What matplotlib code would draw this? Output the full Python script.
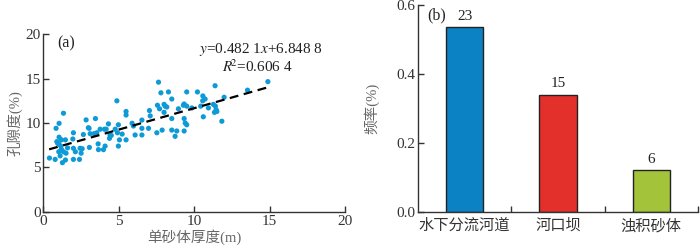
import matplotlib
matplotlib.use("Agg")
import matplotlib.pyplot as plt
import numpy as np

plt.rcParams['font.family'] = ['Liberation Serif', 'Noto Sans CJK SC']
plt.rcParams['mathtext.fontset'] = 'stix'

# ---- data (a): single sand body thickness vs porosity ----
thickness = [0.40, 0.78, 0.84, 1.04, 1.33, 0.89, 1.04, 1.02, 1.20, 1.46,
             1.02, 1.20, 1.33, 1.50, 1.26, 1.46, 1.11, 1.99, 2.39, 1.99,
             2.12, 1.95, 1.99, 2.43, 2.57, 2.50, 2.65, 2.83, 3.03, 3.10,
             3.05, 3.36, 3.45, 3.54, 3.63, 3.65, 3.98, 4.05,
             4.09, 4.16, 4.31, 4.38, 4.42, 4.76, 4.87, 4.91, 4.97, 5.04,
             4.97, 5.22, 5.48, 5.48, 5.48, 5.88, 5.97, 6.08, 6.53, 6.53,
             6.53, 7.03, 7.08, 6.97, 7.52, 7.63, 7.79, 7.56, 7.70, 8.00,
             8.00, 7.87, 1.15, 1.60, 0.95,
             8.29, 8.07, 8.18, 8.51, 8.51, 8.51, 8.84, 8.73, 8.95, 9.28,
             9.50, 9.33, 9.40, 9.50, 9.33, 9.50, 9.84, 10.21, 10.43, 10.57,
             10.72, 10.60, 10.94, 11.27, 11.40, 11.38, 11.45, 11.50, 11.83, 11.98,
             13.53, 14.88, 9.33, 10.56, 11.34, 3.76, 2.98, 4.50]
porosity = [6.05, 5.90, 9.40, 9.96, 11.10, 7.90, 8.40, 7.65, 8.10, 8.10,
            6.76, 7.03, 6.76, 6.60, 5.53, 5.83, 6.30, 5.90, 5.90, 7.15,
            6.76, 8.20, 8.90, 7.15, 7.10, 6.60, 8.70, 10.35, 9.40, 8.80,
            7.25, 8.80, 10.50, 8.90, 7.65, 7.00, 7.00, 9.30,
            7.40, 9.30, 9.90, 8.27, 8.65, 9.30, 12.50, 8.90, 9.80, 8.10,
            7.40, 8.75, 8.10, 11.30, 10.90, 9.97, 9.66, 8.65, 10.33, 9.40,
            8.65, 11.40, 10.80, 9.40, 8.90, 14.60, 13.40, 12.00, 11.60, 12.10,
            11.20, 9.20, 7.40, 7.20, 7.70,
            13.50, 11.90, 11.80, 12.70, 10.50, 9.20, 9.10, 8.50, 11.60, 12.00,
            11.90, 10.50, 10.00, 9.80, 9.10, 13.50, 11.70, 13.50, 11.90, 13.05,
            12.70, 10.70, 11.70, 12.10, 11.90, 14.20, 11.50, 11.30, 10.20, 12.90,
            13.70, 14.66, 12.14, 12.50, 11.20, 9.30, 9.47, 8.60]
fit_slope = 0.4821
fit_intercept = 6.8488
fit_range = [0.38, 14.9]

# ---- data (b): frequency by sand body type ----
categories = ['水下分流河道', '河口坝', '浊积砂体']
frequency = [0.535, 0.34, 0.12]
counts = [23, 15, 6]
bar_colors = ['#0a82c3', '#e3302b', '#a3c43a']

fig = plt.figure(figsize=(7, 2.5), dpi=100)

spine_c = '#333333'
label_c = '#666666'
tick_c = '#333333'

# ---------------- (a) ----------------
ax1 = fig.add_axes([0.062, 0.153, 0.431, 0.710])
ax1.scatter(thickness, porosity, s=14, color='#0e9ad7', edgecolors='none', zorder=2)
xf = np.array(fit_range)
ax1.plot(xf, fit_slope * xf + fit_intercept, color='black', lw=1.6,
         ls=(0, (4, 2.5)), zorder=3)
ax1.set_xlim(0, 20)
ax1.set_ylim(0, 20)
ax1.set_xticks([0, 5, 10, 15, 20])
ax1.set_yticks([0, 5, 10, 15, 20])
for s in ['top', 'right']:
    ax1.spines[s].set_visible(False)
for s in ['left', 'bottom']:
    ax1.spines[s].set_color(spine_c)
    ax1.spines[s].set_linewidth(1.0)
ax1.tick_params(direction='in', length=4, width=1, colors=tick_c,
                labelsize=11, labelcolor='#333333', pad=2)
ax1.set_xlabel('单砂体厚度(m)', fontsize=10.5, color=label_c, labelpad=1)
ax1.set_ylabel('孔隙度(%)', fontsize=10.5, color=label_c, labelpad=2)
ax1.text(0.045, 0.95, '(a)', transform=ax1.transAxes, fontsize=11.5,
         color='#222222', va='center', ha='left')
ax1.text(0.72, 0.915, r'$y$=0.482 1$x$+6.848 8', transform=ax1.transAxes,
         fontsize=11, color='#222222', ha='center', va='center')
ax1.text(0.71, 0.82, r'$R^{\!\!2}$=0.606 4', transform=ax1.transAxes,
         fontsize=11, color='#222222', ha='center', va='center')

# ---------------- (b) ----------------
ax2 = fig.add_axes([0.597, 0.153, 0.400, 0.827])
xpos = np.arange(len(categories))
ax2.bar(xpos, frequency, width=0.4, color=bar_colors,
        edgecolor='#222222', linewidth=1.0, zorder=2)
for xi, f, c in zip(xpos, frequency, counts):
    ax2.text(xi, f + 0.012, str(c), ha='center', va='bottom',
             fontsize=11, color='#222222')
ax2.set_xlim(-0.5, 2.5)
ax2.set_ylim(0, 0.6)
ax2.set_yticks([0.0, 0.2, 0.4, 0.6])
ax2.set_yticklabels(['0.0', '0.2', '0.4', '0.6'])
ax2.set_xticks([0.5, 1.5, 2.5])
ax2.set_xticklabels([])
ax2.set_xticks(xpos, minor=True)
ax2.set_xticklabels(categories, minor=True, fontsize=11, color='#333333')
ax2.tick_params(axis='x', which='minor', length=0, pad=5)
for s in ['top', 'right']:
    ax2.spines[s].set_visible(False)
for s in ['left', 'bottom']:
    ax2.spines[s].set_color(spine_c)
    ax2.spines[s].set_linewidth(1.0)
ax2.tick_params(axis='both', which='major', direction='in', length=4, width=1,
                colors=tick_c, labelsize=11, labelcolor='#333333', pad=2)
ax2.set_ylabel('频率(%)', fontsize=10.5, color=label_c, labelpad=12)
ax2.text(0.035, 0.95, '(b)', transform=ax2.transAxes, fontsize=11.5,
         color='#222222', va='center', ha='left')

fig.savefig('out.png', dpi=100)
